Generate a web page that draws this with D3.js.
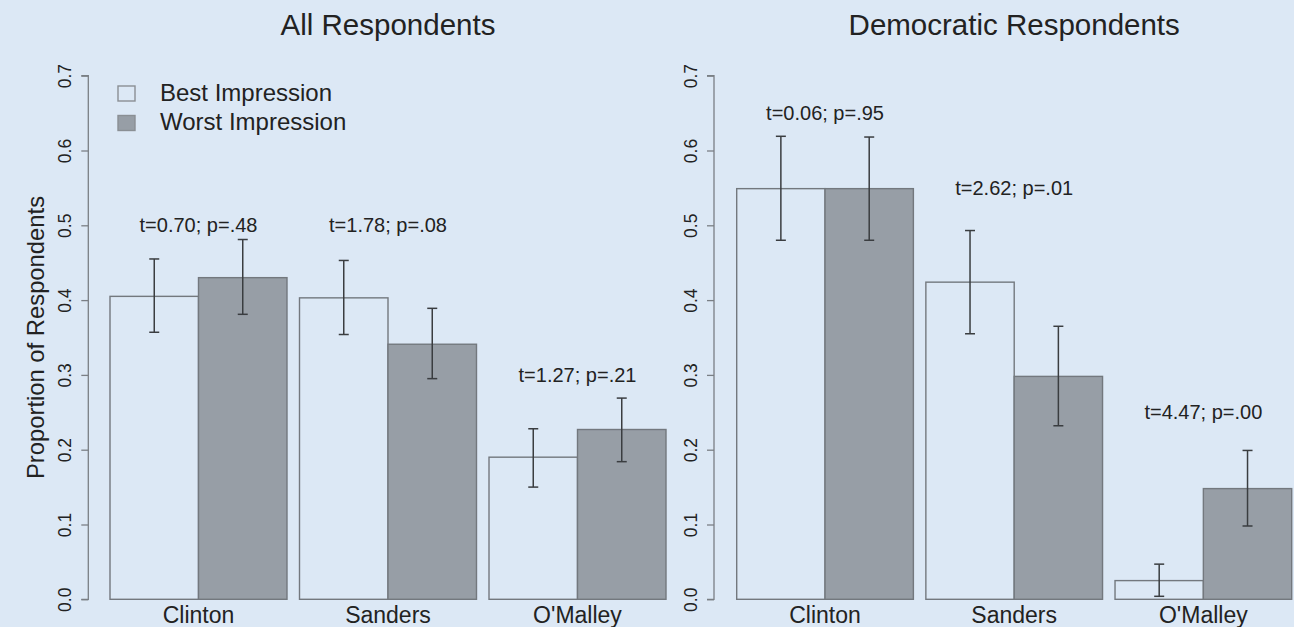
<!DOCTYPE html>
<html>
<head>
<meta charset="utf-8">
<script src="https://cdn.jsdelivr.net/npm/d3@7"></script>
<style>
  html, body { margin: 0; padding: 0; background: #dce8f5; }
  svg { display: block; font-family: "Liberation Sans", Arial, Helvetica, sans-serif; }
</style>
</head>
<body>
<svg id="chart" width="1294" height="627"></svg>
<script>
// Candidates and impression series
const candidates = ["Clinton", "Sanders", "O'Malley"];
const series = ["Best Impression", "Worst Impression"];
const yTicks = [0.0, 0.1, 0.2, 0.3, 0.4, 0.5, 0.6, 0.7];

// All respondents: proportions and confidence bounds
const allBest = [0.405, 0.403, 0.190];
const allWorst = [0.430, 0.341, 0.227];
const allBestLo = [0.357, 0.354, 0.150];
const allBestHi = [0.455, 0.453, 0.228];
const allWorstLo = [0.381, 0.295, 0.184];
const allWorstHi = [0.481, 0.389, 0.269];
const allTests = ["t=0.70; p=.48", "t=1.78; p=.08", "t=1.27; p=.21"];
const allTestY = [0.5, 0.5, 0.3];

// Democratic respondents: proportions and confidence bounds
const demBest = [0.549, 0.424, 0.025];
const demWorst = [0.549, 0.298, 0.148];
const demBestLo = [0.480, 0.355, 0.004];
const demBestHi = [0.619, 0.493, 0.047];
const demWorstLo = [0.480, 0.232, 0.098];
const demWorstHi = [0.618, 0.365, 0.199];
const demTests = ["t=0.06; p=.95", "t=2.62; p=.01", "t=4.47; p=.00"];
const demTestY = [0.65, 0.55, 0.25];

const svg = d3.select("#chart");
const bg = "#dce8f5";
const fills = [bg, "#979ea6"];
const textColor = "#222";

const y = d3.scaleLinear().domain([0, 0.7]).range([599.3, 75.7]);

function panel(opts) {
  const g = svg.append("g");
  const x0 = d3.scaleBand().domain(candidates).range(opts.barRange).paddingInner(0.066).paddingOuter(0);
  const x1 = d3.scaleBand().domain(series).range([0, x0.bandwidth()]).padding(0);

  // y axis
  const axis = d3.axisLeft(y).tickValues(yTicks).tickSize(7).tickFormat(d3.format(".1f"));
  const ax = g.append("g").attr("transform", `translate(${opts.axisX},0)`).call(axis);
  ax.select(".domain").attr("stroke", "#7a7f85").attr("stroke-width", 1.3)
    .attr("d", `M-7,${y(0.7)}H0V${y(0)}H-7`);
  ax.selectAll(".tick line").attr("stroke", "#7a7f85").attr("stroke-width", 1.3);
  ax.selectAll(".tick text")
    .attr("fill", textColor)
    .attr("font-size", 17.5)
    .attr("transform", "rotate(-90)")
    .attr("x", 0).attr("y", -17)
    .attr("dy", 0)
    .attr("text-anchor", "middle");

  const rows = candidates.map((c, i) => ({
    c,
    vals: [opts.best[i], opts.worst[i]],
    lo: [opts.bestLo[i], opts.worstLo[i]],
    hi: [opts.bestHi[i], opts.worstHi[i]],
    test: opts.tests[i],
    testY: opts.testY[i]
  }));

  const grp = g.selectAll("g.grp").data(rows).join("g").attr("class", "grp")
    .attr("transform", d => `translate(${x0(d.c)},0)`);

  grp.selectAll("rect").data(d => d.vals.map((v, k) => ({ v, k })))
    .join("rect")
    .attr("x", d => x1(series[d.k]))
    .attr("width", x1.bandwidth())
    .attr("y", d => y(d.v))
    .attr("height", d => y(0) - y(d.v))
    .attr("fill", d => fills[d.k])
    .attr("stroke", "#73787e")
    .attr("stroke-width", 1.4);

  // error bars
  const eb = grp.selectAll("g.eb").data(d => d.vals.map((v, k) => ({ lo: d.lo[k], hi: d.hi[k], k })))
    .join("g").attr("class", "eb")
    .attr("transform", d => `translate(${x1(series[d.k]) + x1.bandwidth() / 2},0)`);
  eb.append("line").attr("x1", 0).attr("x2", 0)
    .attr("y1", d => y(d.lo)).attr("y2", d => y(d.hi));
  eb.append("line").attr("x1", -5).attr("x2", 5)
    .attr("y1", d => y(d.lo)).attr("y2", d => y(d.lo));
  eb.append("line").attr("x1", -5).attr("x2", 5)
    .attr("y1", d => y(d.hi)).attr("y2", d => y(d.hi));
  eb.selectAll("line").attr("stroke", "#3a3d40").attr("stroke-width", 1.5);

  // test statistics
  grp.append("text")
    .attr("x", x0.bandwidth() / 2)
    .attr("y", d => y(d.testY))
    .attr("dy", "0.35em")
    .attr("text-anchor", "middle")
    .attr("font-size", 20)
    .attr("fill", textColor)
    .text(d => d.test);

  // category labels
  grp.append("text")
    .attr("x", x0.bandwidth() / 2)
    .attr("y", 622.5)
    .attr("text-anchor", "middle")
    .attr("font-size", 23)
    .attr("fill", textColor)
    .text(d => d.c);

  // title
  g.append("text")
    .attr("x", (opts.barRange[0] + opts.barRange[1]) / 2)
    .attr("y", 35)
    .attr("text-anchor", "middle")
    .attr("font-size", 29.5)
    .attr("fill", textColor)
    .text(opts.title);

  return g;
}

panel({
  title: "All Respondents",
  axisX: 88.3,
  barRange: [110, 666],
  best: allBest, worst: allWorst,
  bestLo: allBestLo, bestHi: allBestHi,
  worstLo: allWorstLo, worstHi: allWorstHi,
  tests: allTests, testY: allTestY
});

panel({
  title: "Democratic Respondents",
  axisX: 714,
  barRange: [736.7, 1291.7],
  best: demBest, worst: demWorst,
  bestLo: demBestLo, bestHi: demBestHi,
  worstLo: demWorstLo, worstHi: demWorstHi,
  tests: demTests, testY: demTestY
});

// y-axis title
svg.append("text")
  .attr("transform", `translate(44,${(y(0) + y(0.7)) / 2}) rotate(-90)`)
  .attr("text-anchor", "middle")
  .attr("font-size", 23.8)
  .attr("fill", textColor)
  .text("Proportion of Respondents");

// legend
const legend = svg.append("g").attr("transform", "translate(118,86)");
const li = legend.selectAll("g").data(series).join("g")
  .attr("transform", (d, i) => `translate(0,${i * 29.5})`);
li.append("rect").attr("x", 0).attr("y", 0).attr("width", 17).attr("height", 15)
  .attr("fill", (d, i) => fills[i]).attr("stroke", "#8a8f94").attr("stroke-width", 1.4);
li.append("text").attr("x", 42).attr("y", 14.7)
  .attr("font-size", 24).attr("fill", textColor).text(d => d);
</script>
</body>
</html>
